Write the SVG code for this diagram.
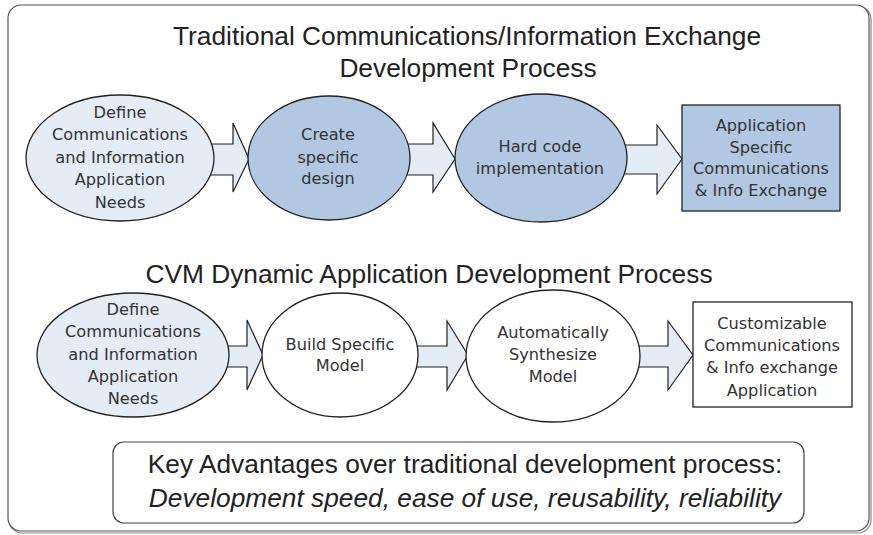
<svg xmlns="http://www.w3.org/2000/svg" width="873" height="535" viewBox="0 0 873 535">
<style>
.title{font-family:"Liberation Sans",Arial,sans-serif;font-size:26.3px;fill:#222;text-anchor:middle}
.lbl{font-family:"DejaVu Sans",Verdana,sans-serif;font-size:16.2px;fill:#333;text-anchor:middle}
.light{fill:#e4ecf6;stroke:#222;stroke-width:1.3}
.dark{fill:#b2c8e2;stroke:#222;stroke-width:1.3}
.white{fill:#fff;stroke:#222;stroke-width:1.3}
.arr{fill:#e4ecf6;stroke:#222;stroke-width:1.2;stroke-linejoin:miter}
</style>
<rect width="873" height="535" fill="#fff"/>
<rect x="9" y="6" width="862" height="527" rx="13" fill="none" stroke="#888" stroke-width="1.2"/>
<rect x="8" y="5" width="861" height="526" rx="13" fill="#fff" stroke="#555" stroke-width="1.2"/>
<text class="title" x="467" y="45">Traditional Communications/Information Exchange</text>
<text class="title" x="468" y="77">Development Process</text>
<text class="title" x="429" y="283">CVM Dynamic Application Development Process</text>
<g id="connectors">
<polygon class="arr" points="205,144 233,144 233,123 249,159 233,192 233,175 205,175"/>
<polygon class="arr" points="400,144 433,144 433,123 455,159 433,192 433,175 400,175"/>
<polygon class="arr" points="620,145 657,145 657,125 682,159 657,194 657,174 620,174"/>
<polygon class="arr" points="222,346 247,346 247,320 263,355 247,390 247,367 222,367"/>
<polygon class="arr" points="410,346 447,346 447,321 468,355 447,390 447,367 410,367"/>
<polygon class="arr" points="632,346 668,346 668,321 693,355 668,390 668,367 632,367"/>
</g>
<g id="t1">
<ellipse class="light" cx="120" cy="158" rx="94" ry="63"/>
<text class="lbl" x="120" y="118">Define</text>
<text class="lbl" x="120" y="140">Communications</text>
<text class="lbl" x="120" y="163">and Information</text>
<text class="lbl" x="120" y="185">Application</text>
<text class="lbl" x="120" y="208">Needs</text>
</g>
<g id="t2">
<ellipse class="dark" cx="329" cy="158" rx="81" ry="62"/>
<text class="lbl" x="328" y="140">Create</text>
<text class="lbl" x="328" y="163">specific</text>
<text class="lbl" x="328" y="184">design</text>
</g>
<g id="t3">
<ellipse class="dark" cx="541" cy="158" rx="86" ry="64"/>
<text class="lbl" x="540" y="152">Hard code</text>
<text class="lbl" x="540" y="174">implementation</text>
</g>
<g id="t4">
<rect class="dark" x="682" y="105" width="158" height="106"/>
<text class="lbl" x="761" y="131">Application</text>
<text class="lbl" x="761" y="153">Specific</text>
<text class="lbl" x="761" y="174">Communications</text>
<text class="lbl" x="761" y="196">&amp; Info Exchange</text>
</g>
<g id="c1">
<ellipse class="light" cx="133" cy="355" rx="96" ry="62"/>
<text class="lbl" x="133" y="315">Define</text>
<text class="lbl" x="133" y="337">Communications</text>
<text class="lbl" x="133" y="360">and Information</text>
<text class="lbl" x="133" y="382">Application</text>
<text class="lbl" x="133" y="404">Needs</text>
</g>
<g id="c2">
<ellipse class="white" cx="340" cy="355" rx="78" ry="62"/>
<text class="lbl" x="340" y="350">Build Specific</text>
<text class="lbl" x="340" y="371">Model</text>
</g>
<g id="c3">
<ellipse class="white" cx="553" cy="356" rx="87" ry="66"/>
<text class="lbl" x="553" y="338">Automatically</text>
<text class="lbl" x="553" y="360">Synthesize</text>
<text class="lbl" x="553" y="382">Model</text>
</g>
<g id="c4">
<rect class="white" x="693" y="302" width="159" height="105"/>
<text class="lbl" x="772" y="329">Customizable</text>
<text class="lbl" x="772" y="351">Communications</text>
<text class="lbl" x="772" y="373">&amp; Info exchange</text>
<text class="lbl" x="772" y="396">Application</text>
</g>
<g id="advantages">
<rect x="113" y="442" width="691" height="81" rx="11" fill="#fff" stroke="#444" stroke-width="1.2"/>
<text class="title" x="465" y="473">Key Advantages over traditional development process:</text>
<text class="title" x="465" y="507" font-style="italic">Development speed, ease of use, reusability, reliability</text>
</g>
</svg>
